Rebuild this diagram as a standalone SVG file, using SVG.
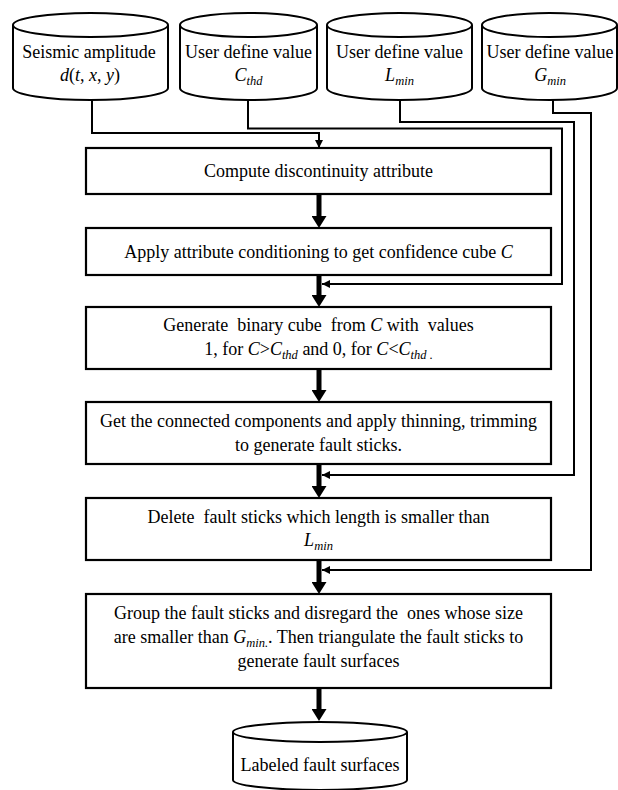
<svg xmlns="http://www.w3.org/2000/svg" width="618" height="790" viewBox="0 0 618 790">
<style>
  text { font-family: "Liberation Serif", "Times New Roman", serif; font-size: 18px; fill: #000; text-anchor: middle; white-space: pre; }
  .i { font-style: italic; }
  .sub { font-style: italic; font-size: 12.5px; }
  .box { fill: #fff; stroke: #000; stroke-width: 2.2; }
  .cyl { fill: #fff; stroke: #000; stroke-width: 2; }
  .thin { fill: none; stroke: #000; stroke-width: 2; }
  .thick { fill: none; stroke: #000; stroke-width: 5; }
</style>
<defs>
  <marker id="big" viewBox="0 0 12 15" refX="4" refY="7.5" markerWidth="12" markerHeight="15" markerUnits="userSpaceOnUse" orient="auto">
    <path d="M0,0 L12,7.5 L0,15 Z" fill="#000"/>
  </marker>
  <marker id="small" viewBox="0 0 8 8" refX="8" refY="4" markerWidth="8" markerHeight="8" markerUnits="userSpaceOnUse" orient="auto">
    <path d="M0,0 L8,4 L0,8 Z" fill="#000"/>
  </marker>
</defs>

<g id="connectors">
  <path class="thin" d="M92,100 V133 H319 V148" marker-end="url(#small)"/>
  <path class="thin" d="M248,100 V128.5 H562 V284 H322" marker-end="url(#small)"/>
  <path class="thin" d="M400,100 V122 H574 V475 H322" marker-end="url(#small)"/>
  <path class="thin" d="M553,100 V113 H591 V570 H322" marker-end="url(#small)"/>
  <path class="thick" d="M319,194 V220" marker-end="url(#big)"/>
  <path class="thick" d="M319,275 V299" marker-end="url(#big)"/>
  <path class="thick" d="M319,369 V394" marker-end="url(#big)"/>
  <path class="thick" d="M319,464 V490" marker-end="url(#big)"/>
  <path class="thick" d="M319,560 V586" marker-end="url(#big)"/>
  <path class="thick" d="M319,688 V713" marker-end="url(#big)"/>
</g>

<g id="seismic">
  <path class="cyl" d="M13,25 A77.5,12 0 0 1 168,25 L168,88 A77.5,12 0 0 1 13,88 Z"/>
  <path class="cyl" d="M13,25 A77.5,12 0 0 0 168,25"/>
  <text x="89" y="58">Seismic amplitude</text>
  <text x="90" y="81"><tspan class="i">d</tspan>(<tspan class="i">t</tspan>, <tspan class="i">x</tspan>, <tspan class="i">y</tspan>)</text>
</g>

<g id="cthd">
  <path class="cyl" d="M180,25 A68.5,12 0 0 1 317,25 L317,88 A68.5,12 0 0 1 180,88 Z"/>
  <path class="cyl" d="M180,25 A68.5,12 0 0 0 317,25"/>
  <text x="248.5" y="58">User define value</text>
  <text x="248.5" y="81"><tspan class="i">C</tspan><tspan class="sub" dy="4">thd</tspan></text>
</g>

<g id="lmin">
  <path class="cyl" d="M327,25 A72.5,12 0 0 1 472,25 L472,88 A72.5,12 0 0 1 327,88 Z"/>
  <path class="cyl" d="M327,25 A72.5,12 0 0 0 472,25"/>
  <text x="399.5" y="58">User define value</text>
  <text x="399.5" y="81"><tspan class="i">L</tspan><tspan class="sub" dy="4">min</tspan></text>
</g>

<g id="gmin">
  <path class="cyl" d="M482,25 A67.5,12 0 0 1 617,25 L617,88 A67.5,12 0 0 1 482,88 Z"/>
  <path class="cyl" d="M482,25 A67.5,12 0 0 0 617,25"/>
  <text x="550" y="58">User define value</text>
  <text x="550" y="81"><tspan class="i">G</tspan><tspan class="sub" dy="4">min</tspan></text>
</g>

<g id="step1">
  <rect class="box" x="86" y="148" width="465" height="46"/>
  <text x="318.5" y="177">Compute discontinuity attribute</text>
</g>

<g id="step2">
  <rect class="box" x="86" y="228" width="465" height="47"/>
  <text x="318.5" y="258">Apply attribute conditioning to get confidence cube <tspan class="i">C</tspan></text>
</g>

<g id="step3">
  <rect class="box" x="86" y="307" width="465" height="62"/>
  <text x="318.5" y="331">Generate  binary cube  from <tspan class="i">C</tspan> with  values</text>
  <text x="318.5" y="355">1, for <tspan class="i">C</tspan>&gt;<tspan class="i">C</tspan><tspan class="sub" dy="4">thd</tspan><tspan dy="-4"> and 0, for </tspan><tspan class="i">C</tspan>&lt;<tspan class="i">C</tspan><tspan class="sub" dy="4">thd .</tspan></text>
</g>

<g id="step4">
  <rect class="box" x="86" y="402" width="465" height="62"/>
  <text x="318.5" y="427">Get the connected components and apply thinning, trimming</text>
  <text x="318.5" y="451">to generate fault sticks.</text>
</g>

<g id="step5">
  <rect class="box" x="86" y="498" width="465" height="62"/>
  <text x="318.5" y="523">Delete  fault sticks which length is smaller than</text>
  <text x="318.5" y="546"><tspan class="i">L</tspan><tspan class="sub" dy="4">min</tspan></text>
</g>

<g id="step6">
  <rect class="box" x="86" y="594" width="465" height="94"/>
  <text x="318.5" y="619">Group the fault sticks and disregard the  ones whose size</text>
  <text x="318.5" y="643">are smaller than <tspan class="i">G</tspan><tspan class="sub" dy="4">min.</tspan><tspan dy="-4">. Then triangulate the fault sticks to</tspan></text>
  <text x="318.5" y="667">generate fault surfaces</text>
</g>

<g id="output">
  <path class="cyl" d="M233,732 A87,10 0 0 1 407,732 L407,780 A87,10 0 0 1 233,780 Z"/>
  <path class="cyl" d="M233,732 A87,10 0 0 0 407,732"/>
  <text x="320" y="771">Labeled fault surfaces</text>
</g>
</svg>
